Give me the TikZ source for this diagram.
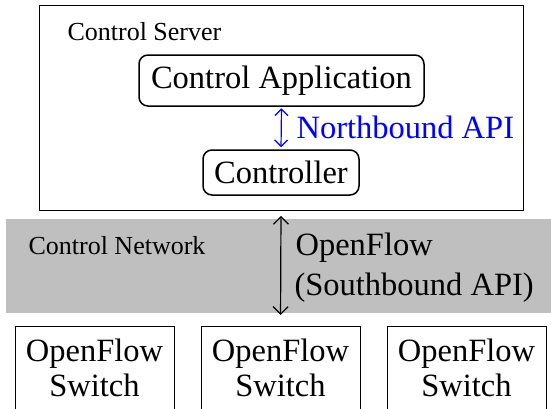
\documentclass[tikz,border=0pt]{standalone}
\usepackage{fontspec}
\setmainfont{Liberation Serif}[Ligatures=TeX]
\usetikzlibrary{arrows.meta}
\tikzset{
  big/.style={font=\rmfamily\fontsize{32.5}{35}\selectfont},
  small/.style={font=\rmfamily\fontsize{26}{30}\selectfont},
  roundbox/.style={draw, line width=1.5pt, rounded corners=9pt, big, inner sep=0pt},
  plainbox/.style={draw, line width=0.8pt, inner sep=0pt},
  bluearrow/.style={{Straight Barb[length=6.5pt,width=13pt]}-{Straight Barb[length=6.5pt,width=13pt]}, line width=1.2pt, blue},
  blackarrow/.style={{Straight Barb[length=7.5pt,width=15pt]}-{Straight Barb[length=7.5pt,width=15pt]}, line width=1.2pt},
}
\begin{document}
\begin{tikzpicture}[x=1pt,y=-1pt]
\useasboundingbox (0,0) rectangle (551,408);
\clip (0,0) rectangle (551,408);
% control network band
\node[fill=black!25, minimum width=554, minimum height=94, inner sep=0pt] (net) at (283,266) {};
\node[small, anchor=base west] (cn) at (25,254) {Control Network};
% control server
\node[plainbox, minimum width=484, minimum height=204.5] (cs) at (281,107.75) {};
\node[small, anchor=base west] (cslabel) at (64,40) {Control Server};
\node[roundbox, minimum width=285, minimum height=51] (app) at (281.5,80.5) {Control Application};
\node[roundbox, minimum width=156, minimum height=45] (ctrl) at (281,172.5) {Controller};
\draw[bluearrow, shorten <=1.5pt, shorten >=2pt] (app.south) -- (ctrl.north);
\node[big, blue, anchor=base west] (nb) at (293,138) {Northbound API};
% switches
\node[plainbox, minimum width=159, minimum height=120, anchor=north] (sw1) at (94.5,326) {};
\node[plainbox, minimum width=159, minimum height=120, anchor=north] (sw2) at (280.5,326) {};
\node[plainbox, minimum width=159, minimum height=120, anchor=north] (sw3) at (466.5,326) {};
\node[big, anchor=base] (sw1a) at (94.5,361) {OpenFlow};
\node[big, anchor=base] (sw1b) at (94.5,396) {Switch};
\node[big, anchor=base] (sw2a) at (280.5,361) {OpenFlow};
\node[big, anchor=base] (sw2b) at (280.5,396) {Switch};
\node[big, anchor=base] (sw3a) at (466.5,361) {OpenFlow};
\node[big, anchor=base] (sw3b) at (466.5,396) {Switch};
% southbound
\draw[blackarrow, shorten <=5.5pt, shorten >=11pt] (cs.south) -- (sw2.north);
\node[big, anchor=base west] (of1) at (292,255) {OpenFlow};
\node[big, anchor=base west] (of2) at (291,295) {(Southbound API)};
\end{tikzpicture}
\end{document}
